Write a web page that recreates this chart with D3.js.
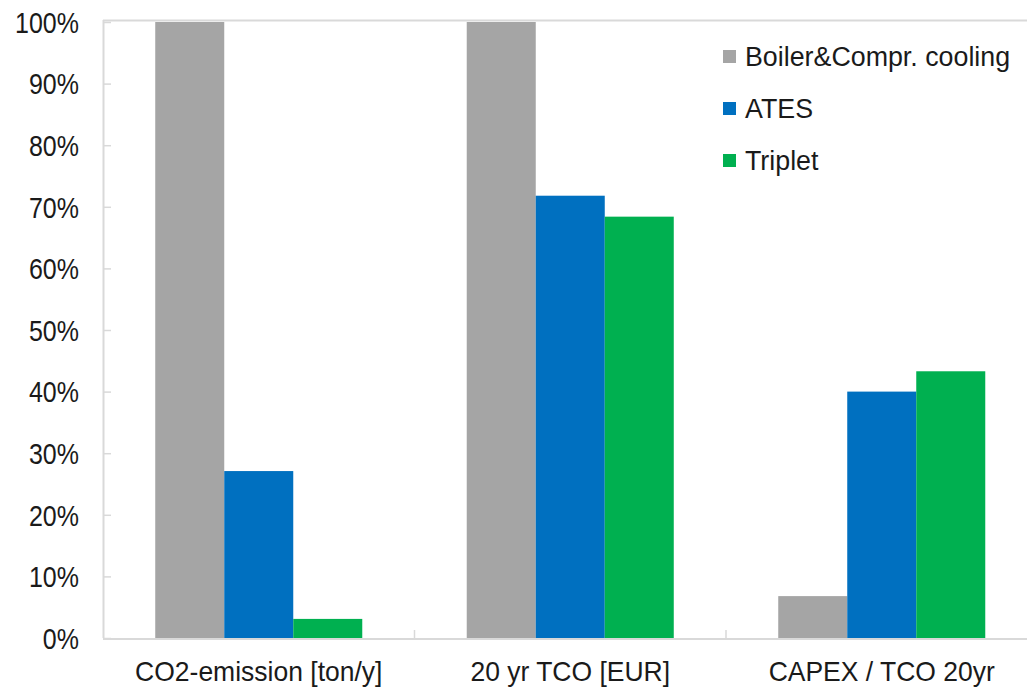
<!DOCTYPE html>
<html>
<head>
<meta charset="utf-8">
<script src="https://cdn.jsdelivr.net/npm/d3@7"></script>
<style>
  html, body { margin: 0; padding: 0; background: #fff; }
  svg { display: block; }
  text { font-family: "Liberation Sans", Arial, sans-serif; fill: #1a1a1a; }
</style>
</head>
<body>
<svg id="chart" width="1027" height="691"></svg>
<script>
// Relative comparison of the three heating/cooling options
const categories = ["CO2-emission [ton/y]", "20 yr TCO [EUR]", "CAPEX / TCO 20yr"];
const seriesNames = ["Boiler&Compr. cooling", "ATES", "Triplet"];
const boilerValues = [100, 100, 6.8];
const atesValues = [27.1, 71.8, 40.0];
const tripletValues = [3.1, 68.4, 43.3];
const yTicks = [0, 10, 20, 30, 40, 50, 60, 70, 80, 90, 100];
const colors = ["#a5a5a5", "#0070c0", "#00b050"];

const series = [boilerValues, atesValues, tripletValues];

const svg = d3.select("#chart");
const plotLeft = 103, bandW = 311.5, plotTop = 22, plotBottom = 638;
const plotRight = plotLeft + bandW * categories.length;
const fontStack = "'Liberation Sans', Arial, sans-serif";

const x = d3.scaleBand().domain(categories).range([plotLeft, plotRight]).paddingInner(0).paddingOuter(0);
const inner = d3.scaleBand().domain(seriesNames).range([0, x.bandwidth()]).paddingOuter(0.757).paddingInner(0);
const y = d3.scaleLinear().domain([0, 100]).range([plotBottom, plotTop]);

// plot frame top
svg.append("line")
  .attr("x1", plotLeft).attr("x2", 1027)
  .attr("y1", plotTop - 1.5).attr("y2", plotTop - 1.5)
  .attr("stroke", "#d9d9d9").attr("stroke-width", 2);

// bars
categories.forEach((c, ci) => {
  seriesNames.forEach((s, si) => {
    const v = series[si][ci];
    svg.append("rect")
      .attr("x", x(c) + inner(s))
      .attr("y", y(v))
      .attr("width", inner.bandwidth())
      .attr("height", y(0) - y(v))
      .attr("fill", colors[si]);
  });
});

// y axis
const yAxis = d3.axisRight(y).tickValues(yTicks).tickSize(8).tickFormat(d => d + "%");
const gy = svg.append("g").attr("transform", `translate(${plotLeft},0)`).call(yAxis);
gy.select(".domain").attr("stroke", "#d9d9d9").attr("stroke-width", 2)
  .attr("d", `M0.5,${plotTop - 2}V${plotBottom}`);
gy.selectAll(".tick line").attr("stroke", "#d9d9d9").attr("stroke-width", 1.5);
gy.selectAll(".tick text")
  .attr("x", -24).attr("y", 0).attr("text-anchor", "end").attr("dy", "0.36em")
  .attr("transform", "scale(1,1.15)")
  .style("font-size", "25px").style("font-family", fontStack)
  .attr("fill", "#1a1a1a");

// x axis
svg.append("line")
  .attr("x1", plotLeft).attr("x2", 1027)
  .attr("y1", plotBottom + 1).attr("y2", plotBottom + 1)
  .attr("stroke", "#d9d9d9").attr("stroke-width", 2);
const xAxis = d3.axisBottom(x).tickSize(0).tickPadding(0);
const gx = svg.append("g").attr("transform", `translate(0,${plotBottom})`).call(xAxis);
gx.select(".domain").remove();
gx.selectAll(".tick text")
  .attr("y", 40.5).attr("dy", 0)
  .attr("transform", "scale(1,1.06)")
  .style("font-size", "26.5px").style("font-family", fontStack)
  .attr("fill", "#1a1a1a");
// category separators
categories.slice(1).forEach(c => {
  svg.append("line")
    .attr("x1", x(c)).attr("x2", x(c))
    .attr("y1", plotBottom).attr("y2", plotBottom - 8)
    .attr("stroke", "#d9d9d9").attr("stroke-width", 1.5);
});

// legend
const legend = svg.append("g").attr("transform", "translate(723,56)");
seriesNames.forEach((s, i) => {
  const g = legend.append("g").attr("transform", `translate(0,${i * 52})`);
  g.append("rect").attr("x", 0).attr("y", -6).attr("width", 13).attr("height", 13).attr("fill", colors[i]);
  g.append("text").attr("x", 22).attr("y", 0).attr("dy", "0.36em")
    .style("font-size", "26.8px").style("font-family", fontStack).text(s);
});
</script>
</body>
</html>
